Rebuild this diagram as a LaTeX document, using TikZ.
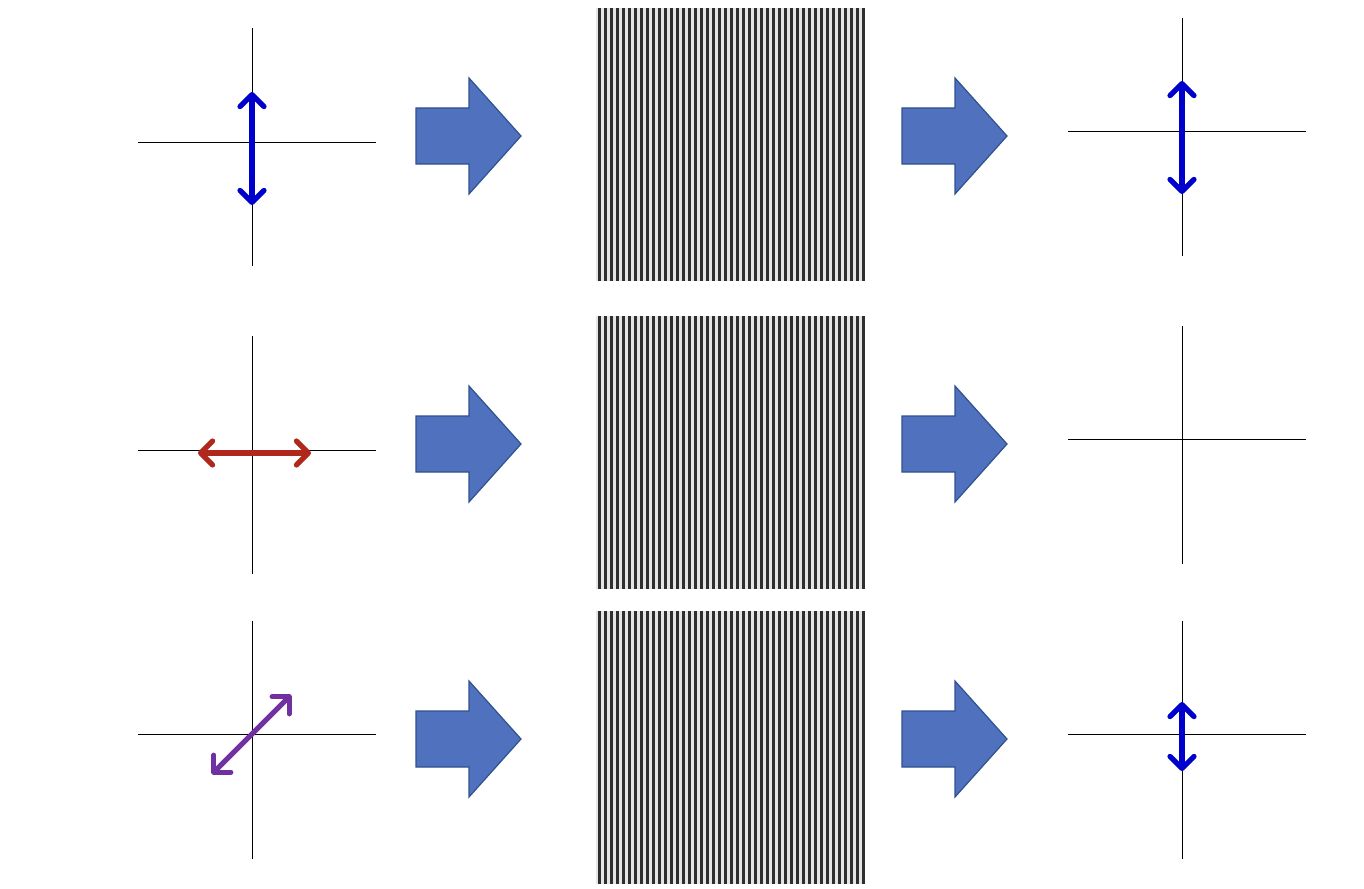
\documentclass[tikz,border=0pt]{standalone}
\usetikzlibrary{arrows.meta}
\definecolor{blk}{HTML}{4F71BE}
\definecolor{blkd}{HTML}{2F528F}
\definecolor{pblue}{HTML}{0000CC}
\definecolor{pred}{HTML}{B0281C}
\definecolor{ppur}{HTML}{7030A0}
\tikzset{
 ax/.style={line width=0.5pt,black},
 pol/.style={line width=2.6pt,line cap=round,{Straight Barb[length=6pt,width=12pt,line width=2.6pt,round]}-{Straight Barb[length=6pt,width=12pt,line width=2.6pt,round]}},
 bigarrow/.style={fill=blk,draw=blkd,line width=0.6pt},
}
\begin{document}
\begin{tikzpicture}[x=0.5pt,y=-0.5pt]
\useasboundingbox (0,0) rectangle (1364,888);
% gratings
\foreach \t/\b in {8/281,316/589,611/884}{
  \fill[gray!20] (596,\t) rectangle (864,\b);
  \foreach \i in {0,...,44}{
    \draw[line width=1.5pt,black!82] (599+\i*6,\t) -- (599+\i*6,\b);
  }
}
% block arrows
\foreach \x in {416,902}{
  \foreach \c in {136,444,739}{
    \draw[bigarrow] (\x,\c-28) -- (\x+53,\c-28) -- (\x+53,\c-58) -- (\x+105,\c) -- (\x+53,\c+58) -- (\x+53,\c+28) -- (\x,\c+28) -- cycle;
  }
}
% left axes
\foreach \h/\t in {142/28,450/336,734/621}{
  \draw[ax] (138,\h) -- (376,\h);
  \draw[ax] (252,\t) -- (252,\t+238);
}
% right axes
\foreach \h/\t in {131/18,439/326,734/621}{
  \draw[ax] (1068,\h) -- (1306,\h);
  \draw[ax] (1182,\t) -- (1182,\t+238);
}
\coordinate (a1) at (252,92); \coordinate (a2) at (252,205);
\coordinate (b1) at (198,453); \coordinate (b2) at (311,453);
\coordinate (c1) at (212,774); \coordinate (c2) at (291,695);
\coordinate (d1) at (1182,81); \coordinate (d2) at (1182,194);
\coordinate (e1) at (1182,702); \coordinate (e2) at (1182,771);
\draw[pol,pblue] (a1) -- (a2);
\draw[pol,pred] (b1) -- (b2);
\draw[pol,ppur] (c1) -- (c2);
\draw[pol,pblue] (d1) -- (d2);
\draw[pol,pblue] (e1) -- (e2);
\end{tikzpicture}
\end{document}
